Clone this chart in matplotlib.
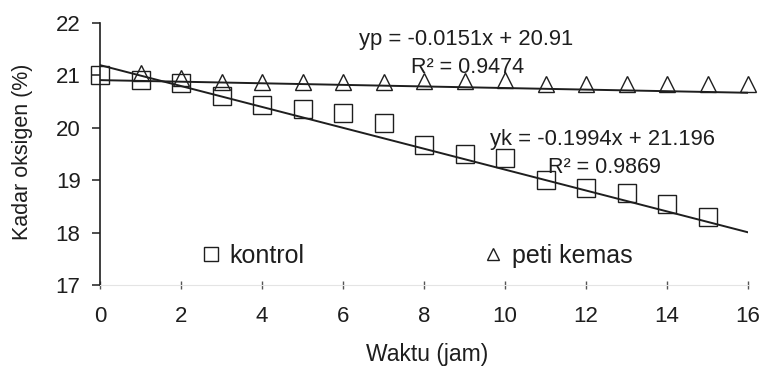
import numpy as np
import matplotlib.pyplot as plt
from matplotlib.lines import Line2D

plt.rcParams['font.family'] = ['Liberation Sans', 'DejaVu Sans']

# hours of storage
waktu = [0, 1, 2, 3, 4, 5, 6, 7, 8, 9, 10, 11, 12, 13, 14, 15]
kontrol = [21.0, 20.92, 20.85, 20.6, 20.43, 20.35, 20.28, 20.1, 19.67,
           19.5, 19.43, 19.0, 18.85, 18.75, 18.55, 18.3]

waktu_peti = [1, 2, 3, 4, 5, 6, 7, 8, 9, 10, 11, 12, 13, 14, 15, 16]
peti = [21.05, 20.95, 20.87, 20.87, 20.87, 20.87, 20.87, 20.9, 20.9,
        20.92, 20.83, 20.83, 20.83, 20.83, 20.83, 20.83]

# trend lines as reported
yp_slope, yp_icpt, yp_r2 = -0.0151, 20.91, 0.9474
yk_slope, yk_icpt, yk_r2 = -0.1994, 21.196, 0.9869

xticks = [0, 2, 4, 6, 8, 10, 12, 14, 16]
yticks = [17, 18, 19, 20, 21, 22]

ink = '#1e1e1e'

fig = plt.figure(figsize=(7.6, 3.67), dpi=100)
ax = fig.add_axes([100 / 760, 82 / 367, 648 / 760, 262 / 367])

xx = np.array([0, 16])
ax.plot(xx, yk_slope * xx + yk_icpt, color=ink, lw=1.4, zorder=2)
ax.plot(xx, yp_slope * xx + yp_icpt, color=ink, lw=1.4, zorder=2)

ax.plot(waktu, kontrol, ls='none', marker='s', ms=12.5, mfc='none',
        mec=ink, mew=1.0, zorder=3, clip_on=False)
ax.plot(waktu_peti, peti, ls='none', marker='^', ms=11.5, mfc='none',
        mec=ink, mew=1.0, zorder=3, clip_on=False)

ax.text(6.4, 21.68, f'yp = {yp_slope}x + {yp_icpt}', fontsize=15.8,
        color=ink, va='center')
ax.text(7.68, 21.16, f'R² = {yp_r2}', fontsize=15.5, color=ink, va='center')
ax.text(9.63, 19.77, f'yk = {yk_slope}x + {yk_icpt}', fontsize=15.8,
        color=ink, va='center')
ax.text(11.06, 19.25, f'R² = {yk_r2}', fontsize=15.5, color=ink, va='center')

ax.set_xlim(0, 16)
ax.set_ylim(17, 22)
ax.set_xticks(xticks)
ax.set_yticks(yticks)
ax.set_xticklabels([str(t) for t in xticks])
ax.set_yticklabels([str(t) for t in yticks])

for s in ['top', 'right']:
    ax.spines[s].set_visible(False)
ax.spines['left'].set_color(ink)
ax.spines['left'].set_linewidth(1.2)
ax.spines['bottom'].set_color('#e4e4e4')
ax.spines['bottom'].set_linewidth(0.8)

ax.tick_params(axis='y', direction='out', length=6, width=1.1, color=ink,
               labelsize=16, labelcolor=ink, pad=8)
ax.tick_params(axis='x', direction='inout', length=6, width=1.0,
               color='#555555', labelsize=16, labelcolor=ink, pad=12)
ax.patch.set_visible(False)

handles = [
    Line2D([], [], ls='none', marker='s', ms=10, mfc='none', mec=ink, mew=1.0),
    Line2D([], [], ls='none', marker='^', ms=9, mfc='none', mec=ink, mew=1.0),
]
ax.legend(handles, ['kontrol', 'peti kemas'], ncol=2, frameon=False,
          fontsize=18, handlelength=0.7, handletextpad=0.4,
          columnspacing=7.2, loc='center left',
          bbox_to_anchor=(102 / 648, 29 / 262), labelcolor=ink,
          borderpad=0, borderaxespad=0)

fig.text(23 / 760, 1 - 152 / 367, 'Kadar oksigen (%)', rotation=90,
         fontsize=15.5, color=ink, ha='center', va='center')
fig.text(427 / 760, 1 - 355 / 367, 'Waktu (jam)', fontsize=16.5, color=ink,
         ha='center', va='center')

fig.savefig('out.png', dpi=100, facecolor='white')
